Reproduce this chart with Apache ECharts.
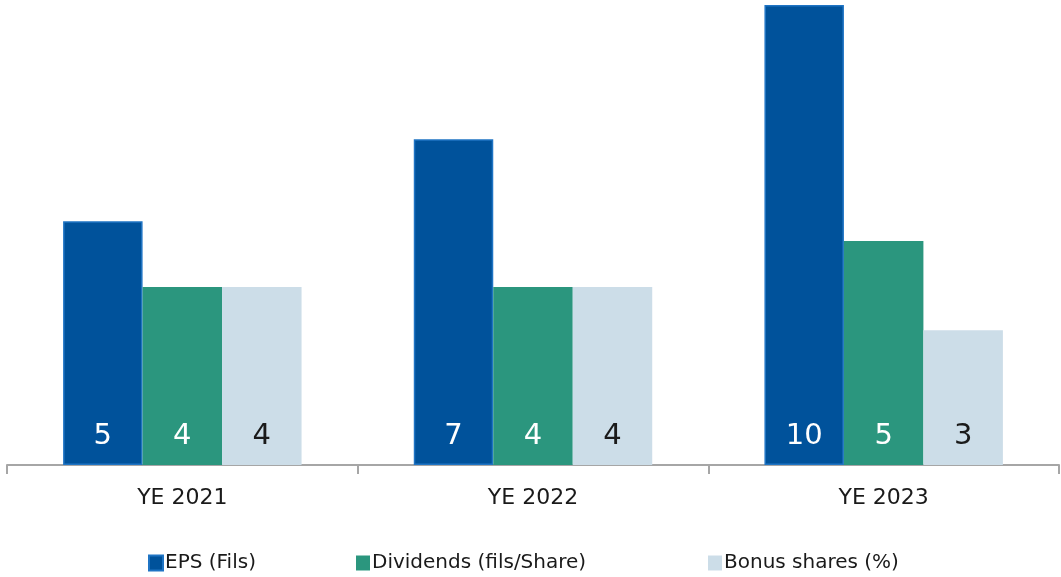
<!DOCTYPE html>
<html><head><meta charset="utf-8">
<script src="https://cdn.jsdelivr.net/npm/echarts@6/dist/echarts.min.js"></script>
<style>html,body{margin:0;padding:0;background:#fff}#c{width:1061px;height:577px}</style>
</head><body><div id="c"></div>
<script>
const categories = ['YE 2021', 'YE 2022', 'YE 2023'];
const seriesNames = ['EPS (Fils)', 'Dividends (fils/Share)', 'Bonus shares (%)'];
const epsValues = [5.3, 7.08, 10.0];
const dividendValues = [3.87, 3.87, 4.87];
const bonusValues = [3.87, 3.87, 2.93];

const FONT = 'DejaVu Sans';
const chart = echarts.init(document.getElementById('c'));
function lbl(color) {
  return {
    show: true, position: 'insideBottom', distance: 14,
    color: color, fontSize: 29, fontFamily: FONT,
    formatter: p => Math.round(p.value)
  };
}
function legend(name, left) {
  return {
    data: [name], left: left, top: 548, icon: 'rect',
    itemWidth: 14, itemHeight: 15, itemGap: 0,
    textStyle: { fontFamily: FONT, fontSize: 20, color: '#1a1a1a', padding: [0, 0, 0, -3] }
  };
}
chart.setOption({
  animation: false,
  color: ['#00529B', '#2B967E', '#CCDDE8'],
  grid: { left: 7, right: 2, top: 5, bottom: 112, containLabel: false },
  legend: [legend(seriesNames[0], 143), legend(seriesNames[1], 351), legend(seriesNames[2], 703)],
  xAxis: {
    type: 'category', data: categories,
    axisLine: { lineStyle: { color: '#a6a6a6', width: 2 } },
    axisTick: { show: true, length: 9, lineStyle: { color: '#a6a6a6', width: 2 } },
    axisLabel: { fontFamily: FONT, fontSize: 22, color: '#1a1a1a', margin: 22 }
  },
  yAxis: { type: 'value', min: 0, max: 10, show: false, splitLine: { show: false } },
  series: [
    { name: seriesNames[0], type: 'bar', data: epsValues, barGap: '0%', barCategoryGap: '32%',
      itemStyle: { borderColor: '#1f74c4', borderWidth: 1.5 }, label: lbl('#ffffff') },
    { name: seriesNames[1], type: 'bar', data: dividendValues, label: lbl('#ffffff') },
    { name: seriesNames[2], type: 'bar', data: bonusValues, label: lbl('#1a1a1a') }
  ]
});
</script></body></html>
